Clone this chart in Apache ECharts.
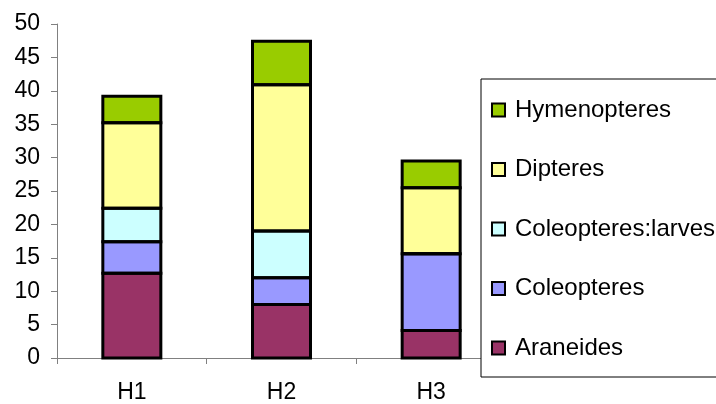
<!DOCTYPE html>
<html>
<head>
<meta charset="utf-8">
<script src="https://cdn.jsdelivr.net/npm/echarts@6/dist/echarts.min.js"></script>
<style>
  html, body { margin: 0; padding: 0; background: #fff; }
  #chart { width: 716px; height: 404px; }
</style>
</head>
<body>
<div id="chart"></div>
<script>
// Sites
const categories = ['H1', 'H2', 'H3'];

// Counts per group, stacked bottom to top
const araneides = [12.7, 8.0, 4.1];
const coleopteres = [4.7, 4.0, 11.5];
const coleopteresLarves = [5.0, 7.0, 0];
const dipteres = [12.8, 21.9, 9.9];
const hymenopteres = [4.0, 6.5, 4.0];

const seriesNames = ['Araneides', 'Coleopteres', 'Coleopteres:larves', 'Dipteres', 'Hymenopteres'];
const seriesValues = [araneides, coleopteres, coleopteresLarves, dipteres, hymenopteres];
const seriesColors = ['#993366', '#9999FF', '#CCFFFF', '#FFFF99', '#99CC00'];

// Running stack boundaries per column: [categoryIndex, 0, b1, b2, ..., total]
const stackEdges = categories.map((_, c) => {
  const row = [c, 0];
  let acc = 0;
  seriesValues.forEach(arr => { acc += arr[c]; row.push(acc); });
  return row;
});

const FONT = '"Liberation Sans", Arial, sans-serif';
const BAR_W = 58;
const EDGE_W = 3;

const chart = echarts.init(document.getElementById('chart'), null, { renderer: 'canvas' });

// Filled segments
const stackSeries = seriesNames.map((name, i) => ({
  name: name,
  type: 'bar',
  stack: 'total',
  barWidth: BAR_W,
  data: seriesValues[i],
  itemStyle: { color: seriesColors[i], borderWidth: 0 }
}));

// Black outlines around every segment, centred on the segment edges
const outlineSeries = {
  type: 'custom',
  silent: true,
  z: 5,
  data: stackEdges,
  encode: { x: 0, y: 1 },
  renderItem: function (params, api) {
    const c = api.value(0);
    const children = [];
    for (let k = 1; k < stackEdges[0].length - 1; k++) {
      const lo = api.coord([c, api.value(k)]);
      const hi = api.coord([c, api.value(k + 1)]);
      children.push({
        type: 'rect',
        shape: { x: lo[0] - BAR_W / 2, y: hi[1], width: BAR_W, height: lo[1] - hi[1] },
        style: { fill: 'none', stroke: '#000000', lineWidth: EDGE_W }
      });
    }
    return { type: 'group', children: children };
  }
};

chart.setOption({
  animation: false,
  backgroundColor: '#ffffff',
  grid: { left: 57, right: 210, top: 24, bottom: 46, containLabel: false },
  xAxis: {
    type: 'category',
    data: categories,
    boundaryGap: true,
    axisLine: { lineStyle: { color: '#808080', width: 1 } },
    axisTick: { show: true, length: 6, lineStyle: { color: '#808080' } },
    axisLabel: { color: '#000', fontFamily: FONT, fontSize: 23, margin: 23 }
  },
  yAxis: {
    type: 'value',
    min: 0,
    max: 50,
    interval: 5,
    splitLine: { show: false },
    axisLine: { show: true, lineStyle: { color: '#808080', width: 1 } },
    axisTick: { show: true, length: 6, lineStyle: { color: '#808080' } },
    axisLabel: { color: '#000', fontFamily: FONT, fontSize: 23, margin: 17 }
  },
  legend: {
    orient: 'vertical',
    left: 481,
    top: 79,
    data: seriesNames.slice().reverse(),
    icon: 'rect',
    itemWidth: 13,
    itemHeight: 13,
    itemGap: 35.5,
    itemTextGap: 14,
    padding: [19, 80, 17, 10],
    backgroundColor: '#ffffff',
    borderColor: '#000000',
    borderWidth: 1,
    itemStyle: { borderColor: '#000000', borderWidth: 2 },
    textStyle: { color: '#000', fontFamily: FONT, fontSize: 24, lineHeight: 24, padding: [0, 0, 0, 5] }
  },
  series: stackSeries.concat([outlineSeries])
});
</script>
</body>
</html>
